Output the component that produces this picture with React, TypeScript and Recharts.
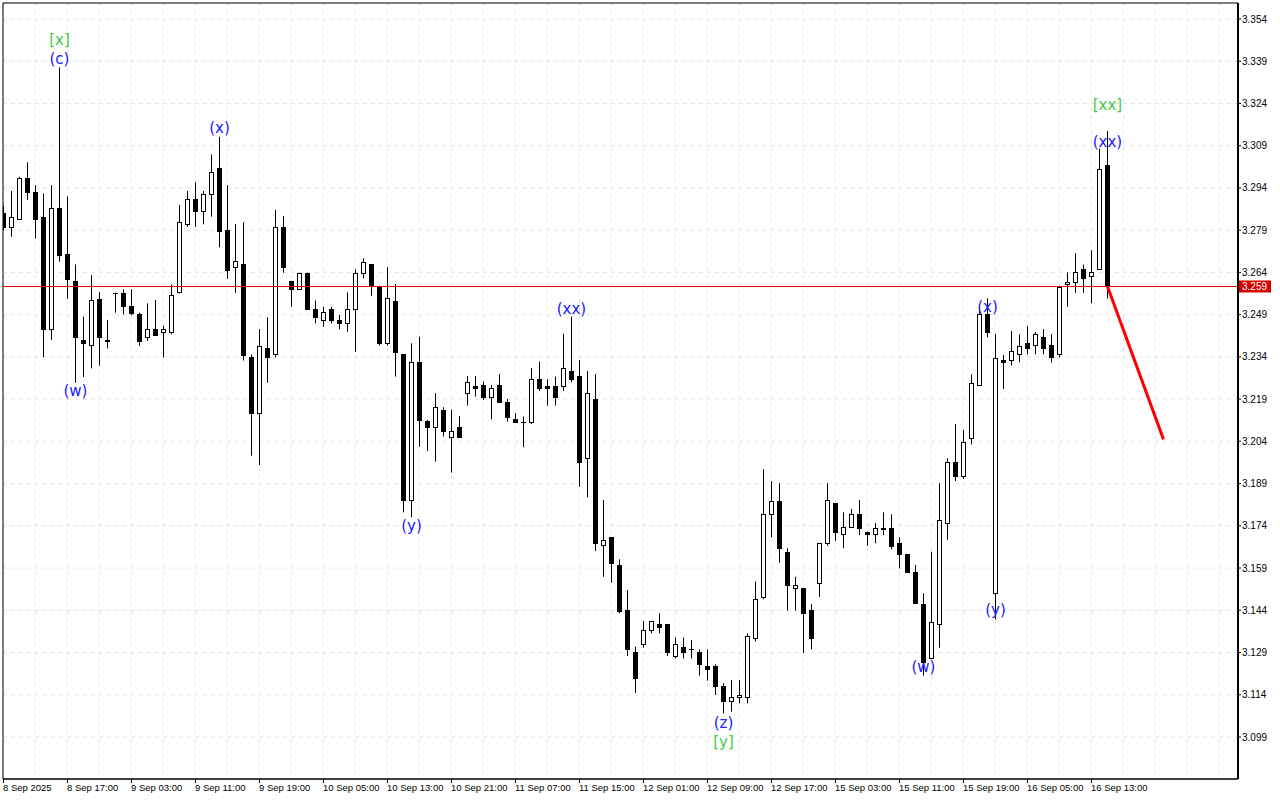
import React from "react";
import {
  ComposedChart,
  Bar,
  Scatter,
  XAxis,
  YAxis,
  CartesianGrid,
  ReferenceLine,
  ReferenceArea,
} from "recharts";

// hourly bars
const OPEN = [
  3.2852, 3.2802, 3.2828, 3.2977, 3.2926, 3.2838, 3.2438, 3.2867, 3.2707, 3.2609,
  3.24, 3.2382, 3.2547, 3.24, 3.2568, 3.2568, 3.2521, 3.2491, 3.2409, 3.2438,
  3.243, 3.243, 3.2569, 3.2811, 3.29, 3.2859, 3.292, 3.301, 3.279, 3.2658,
  3.2669, 3.2338, 3.2139, 3.237, 3.2349, 3.28, 3.261, 3.258, 3.2639, 3.2509,
  3.2471, 3.2509, 3.2471, 3.2459, 3.2509, 3.2639, 3.2669, 3.2592, 3.2388, 3.254,
  3.2349, 3.1831, 3.2321, 3.2112, 3.209, 3.2152, 3.2057, 3.209, 3.2211, 3.2238,
  3.224, 3.2199, 3.224, 3.2179, 3.2118, 3.211, 3.211, 3.226, 3.2238, 3.2238,
  3.2238, 3.229, 3.2272, 3.198, 3.2191, 3.1672, 3.1699, 3.1601, 3.1441, 3.1291,
  3.132, 3.137, 3.139, 3.139, 3.1279, 3.1308, 3.1303, 3.1291, 3.1242, 3.1242,
  3.1171, 3.1119, 3.1131, 3.1131, 3.134, 3.1488, 3.1781, 3.1829, 3.1648, 3.1518,
  3.1518, 3.1441, 3.1538, 3.1678, 3.182, 3.171, 3.1737, 3.1781, 3.1719, 3.171,
  3.1731, 3.1731, 3.1678, 3.1639, 3.1577, 3.1462, 3.1269, 3.139, 3.1749, 3.1968,
  3.1918, 3.2051, 3.2239, 3.2491, 3.15, 3.2329, 3.2329, 3.235, 3.2388, 3.2382,
  3.2409, 3.2382, 3.2349, 3.2598, 3.2607, 3.2651, 3.2628, 3.2651, 3.3021,
];
const HIGH = [
  3.2875, 3.2929, 3.298, 3.3031, 3.295, 3.292, 3.295, 3.3368, 3.291, 3.2668,
  3.2483, 3.263, 3.257, 3.2471, 3.2568, 3.258, 3.258, 3.2497, 3.253, 3.2542,
  3.245, 3.2597, 3.2879, 3.2929, 3.296, 3.2929, 3.3059, 3.3122, 3.295, 3.2812,
  3.2818, 3.2349, 3.2439, 3.248, 3.2862, 3.284, 3.261, 3.2639, 3.2639, 3.254,
  3.2518, 3.2518, 3.2489, 3.2569, 3.2651, 3.269, 3.2669, 3.2592, 3.2658, 3.2599,
  3.2349, 3.2388, 3.2412, 3.2116, 3.2211, 3.2161, 3.2152, 3.213, 3.2272, 3.2272,
  3.2252, 3.224, 3.2279, 3.219, 3.214, 3.2128, 3.23, 3.2323, 3.226, 3.227,
  3.2422, 3.2483, 3.2329, 3.229, 3.2279, 3.1832, 3.1699, 3.1621, 3.1512, 3.1311,
  3.1402, 3.1402, 3.1429, 3.139, 3.1343, 3.1343, 3.1335, 3.1301, 3.1301, 3.1248,
  3.1181, 3.1192, 3.1192, 3.1358, 3.1542, 3.1941, 3.1899, 3.1891, 3.166, 3.1559,
  3.1518, 3.1462, 3.1678, 3.1891, 3.182, 3.1788, 3.18, 3.1832, 3.1719, 3.1749,
  3.1788, 3.1781, 3.1699, 3.1639, 3.1601, 3.15, 3.1648, 3.1891, 3.198, 3.2102,
  3.208, 3.2278, 3.2506, 3.2548, 3.2421, 3.2347, 3.2432, 3.242, 3.2449, 3.2429,
  3.2439, 3.2421, 3.2589, 3.264, 3.2708, 3.2668, 3.2719, 3.308, 3.3142,
];
const LOW = [
  3.279, 3.2767, 3.2826, 3.2897, 3.2761, 3.2338, 3.24, 3.2678, 3.2547, 3.2248,
  3.2269, 3.2299, 3.2309, 3.237, 3.2497, 3.2491, 3.2488, 3.2379, 3.2397, 3.2416,
  3.2338, 3.242, 3.2565, 3.2802, 3.2802, 3.2811, 3.2838, 3.2729, 3.2617, 3.2568,
  3.2327, 3.1989, 3.1956, 3.2248, 3.2338, 3.2639, 3.2518, 3.258, 3.2509, 3.2459,
  3.2447, 3.2459, 3.2438, 3.2429, 3.2358, 3.2619, 3.2557, 3.238, 3.238, 3.227,
  3.1788, 3.177, 3.2021, 3.2006, 3.1968, 3.2057, 3.1929, 3.2057, 3.2167, 3.2199,
  3.2187, 3.2118, 3.2178, 3.211, 3.211, 3.2019, 3.2101, 3.2219, 3.2167, 3.2167,
  3.2219, 3.225, 3.1879, 3.1841, 3.165, 3.1559, 3.1538, 3.1429, 3.1278, 3.1147,
  3.1307, 3.1358, 3.1358, 3.1278, 3.1269, 3.1269, 3.1269, 3.1208, 3.119, 3.1139,
  3.1074, 3.108, 3.1109, 3.1109, 3.1329, 3.1479, 3.1699, 3.1609, 3.1439, 3.1439,
  3.1289, 3.1301, 3.1488, 3.1669, 3.1687, 3.166, 3.1737, 3.1707, 3.1669, 3.1678,
  3.1707, 3.1656, 3.1589, 3.1577, 3.1467, 3.1208, 3.1269, 3.1307, 3.169, 3.1899,
  3.1906, 3.2029, 3.2239, 3.2409, 3.1408, 3.2226, 3.2309, 3.2321, 3.2349, 3.2349,
  3.2349, 3.232, 3.2338, 3.2518, 3.2568, 3.2568, 3.253, 3.2651, 3.2547,
];
const CLOSE = [
  3.2802, 3.2838, 3.2977, 3.2926, 3.2828, 3.2438, 3.2867, 3.2701, 3.2618, 3.2409,
  3.2388, 3.2542, 3.2409, 3.2398, 3.2568, 3.2521, 3.2497, 3.2397, 3.2438, 3.2418,
  3.2438, 3.2558, 3.2818, 3.29, 3.2859, 3.292, 3.2997, 3.2788, 3.2649, 3.268,
  3.2347, 3.2139, 3.238, 3.2338, 3.28, 3.2658, 3.258, 3.2639, 3.2509, 3.248,
  3.2498, 3.2471, 3.2459, 3.2509, 3.2639, 3.2678, 3.2592, 3.2388, 3.2548, 3.2358,
  3.1831, 3.2321, 3.2116, 3.209, 3.2161, 3.2078, 3.2078, 3.2057, 3.225, 3.2228,
  3.2199, 3.2228, 3.2178, 3.2128, 3.211, 3.2108, 3.226, 3.2228, 3.2228, 3.2199,
  3.23, 3.226, 3.1968, 3.2211, 3.1678, 3.169, 3.1609, 3.1439, 3.1301, 3.1198,
  3.137, 3.1402, 3.138, 3.1291, 3.132, 3.1291, 3.1302, 3.1248, 3.123, 3.1171,
  3.1119, 3.1131, 3.1139, 3.135, 3.1479, 3.1781, 3.1829, 3.166, 3.153, 3.153,
  3.1429, 3.134, 3.1678, 3.1832, 3.1719, 3.1737, 3.1781, 3.1731, 3.171, 3.1731,
  3.173, 3.1669, 3.1639, 3.1577, 3.1467, 3.1257, 3.1399, 3.1761, 3.1968, 3.1918,
  3.2039, 3.2248, 3.2491, 3.2429, 3.2337, 3.2321, 3.2361, 3.238, 3.237, 3.242,
  3.237, 3.2338, 3.2589, 3.2607, 3.264, 3.2619, 3.264, 3.3009, 3.259,
];

const X_LABELS = [
  "8 Sep 2025", "8 Sep 17:00", "9 Sep 03:00", "9 Sep 11:00", "9 Sep 19:00",
  "10 Sep 05:00", "10 Sep 13:00", "10 Sep 21:00", "11 Sep 07:00", "11 Sep 15:00",
  "12 Sep 01:00", "12 Sep 09:00", "12 Sep 17:00", "15 Sep 03:00", "15 Sep 11:00",
  "15 Sep 19:00", "16 Sep 05:00", "16 Sep 13:00",
];
const Y_TICKS = [
  3.354, 3.339, 3.324, 3.309, 3.294, 3.279, 3.264, 3.249, 3.234, 3.219,
  3.204, 3.189, 3.174, 3.159, 3.144, 3.129, 3.114, 3.099,
];

// wave marks: text, bar index, price where the text sits
const WAVE_TEXT = ["[x]", "(c)", "(w)", "(x)", "(y)", "(xx)", "(z)", "[y]", "(w)", "(x)", "(y)", "[xx]", "(xx)"];
const WAVE_BAR = [7, 7, 9, 27, 51, 71, 90, 90, 115, 123, 124, 138, 138];
const WAVE_PRICE = [3.3465, 3.3398, 3.2219, 3.3153, 3.1739, 3.251, 3.104, 3.0972, 3.1239, 3.2517, 3.1441, 3.3235, 3.3103];

const LAST_PRICE = 3.259;
const FORECAST_BAR = [138, 145];
const FORECAST_PRICE = [3.259, 3.2047];

const X_MIN = -0.0625;
const X_MAX = 154.3125;
const Y_MIN = 3.08408;
const Y_MAX = 3.35968;

const CANDLES = OPEN.map((o, i) => ({ i, o, h: HIGH[i], l: LOW[i], c: CLOSE[i] }));
const WAVES = WAVE_TEXT.map((t, k) => ({ i: WAVE_BAR[k], p: WAVE_PRICE[k], t }));
const X_TICKS = Array.from({ length: 39 }, (_, k) => k * 4);

const AXIS_FONT = "'Liberation Sans', Arial, sans-serif";

function Candle(props: any) {
  const { x, y, width, height, payload } = props;
  if (!payload || !isFinite(x) || !isFinite(y)) return null;
  const top = Math.min(y, y + height);
  const bot = Math.max(y, y + height);
  const span = payload.h - payload.l;
  const py = (p: number) => (span > 0 ? top + ((payload.h - p) / span) * (bot - top) : top);
  const cx = Math.floor(x + width / 2) + 0.5;
  const yo = py(payload.o);
  const yc = py(payload.c);
  const bt = Math.round(Math.min(yo, yc));
  const bb = Math.round(Math.max(yo, yc));
  const up = payload.c >= payload.o;
  return (
    <g>
      <line x1={cx} x2={cx} y1={top} y2={bot} stroke="#000" strokeWidth={1} />
      {bb - bt < 1 ? (
        <line x1={cx - 2.5} x2={cx + 2.5} y1={bt + 0.5} y2={bt + 0.5} stroke="#000" />
      ) : up ? (
        <rect x={cx - 2} y={bt + 0.5} width={4} height={bb - bt} fill="#fff" stroke="#000" strokeWidth={1} />
      ) : (
        <rect x={cx - 2.5} y={bt} width={5} height={bb - bt + 1} fill="#000" />
      )}
    </g>
  );
}

function WaveLabel(props: any) {
  const { cx, cy, payload } = props;
  if (!payload) return null;
  const green = payload.t.startsWith("[");
  return (
    <text
      x={cx}
      y={cy}
      textAnchor="middle"
      dominantBaseline="central"
      fontSize={15}
      fontFamily="'DejaVu Sans', sans-serif"
      fill={green ? "#3fcc3f" : "#2020ff"}
    >
      {payload.t}
    </text>
  );
}

function XTick(props: any) {
  const { x, y, payload } = props;
  const v = payload.value;
  if (v % 8 !== 0) return <g />;
  const label = X_LABELS[v / 8];
  if (!label) return <g />;
  const tx = Math.floor(x) + 0.5;
  return (
    <g>
      <line x1={tx} x2={tx} y1={y} y2={y + 4} stroke="#000" />
      <text x={tx - 0.5} y={y + 12} fontSize={9.5} fontFamily={AXIS_FONT} fill="#000" textAnchor="start">
        {label}
      </text>
    </g>
  );
}

function PriceTag(props: any) {
  const { viewBox } = props;
  if (!viewBox) return null;
  const right = viewBox.x + viewBox.width;
  const yy = viewBox.y;
  return (
    <g>
      <rect x={right + 1} y={yy - 6} width={32} height={12} fill="#d40000" />
      <text x={right + 4} y={yy + 4} fontSize={10} fontFamily={AXIS_FONT} fill="#fff">
        {LAST_PRICE.toFixed(3)}
      </text>
    </g>
  );
}

export default function App() {
  return (
    <div style={{ position: "absolute", left: 0, top: 0, width: 1280, height: 800, background: "#fff" }}>
      <ComposedChart
        width={1280}
        height={800}
        data={CANDLES}
        margin={{ top: 3, right: 0, bottom: 0, left: 3 }}
      >
        <CartesianGrid stroke="#e4e4e4" strokeDasharray="4 4" />
        <XAxis
          type="number"
          dataKey="i"
          domain={[X_MIN, X_MAX]}
          allowDataOverflow
          ticks={X_TICKS}
          interval={0}
          height={21}
          axisLine={{ stroke: "#000" }}
          tickLine={false}
          tickSize={0}
          tickMargin={0}
          tick={<XTick />}
        />
        <YAxis
          orientation="right"
          width={42}
          domain={[Y_MIN, Y_MAX]}
          allowDataOverflow
          ticks={Y_TICKS}
          interval={0}
          axisLine={{ stroke: "#000", strokeWidth: 2 }}
          tickLine={{ stroke: "#000" }}
          tickSize={3}
          tickMargin={1}
          tickFormatter={(v: number) => v.toFixed(3)}
          tick={{ fontSize: 10, fill: "#000", fontFamily: AXIS_FONT }}
        />
        <ReferenceArea x1={X_MIN} x2={X_MAX} y1={Y_MIN} y2={Y_MAX} fill="none" stroke="#000" ifOverflow="visible" />
        <ReferenceLine y={LAST_PRICE} stroke="#e00000" strokeWidth={1} label={<PriceTag />} />
        <Bar
          dataKey={(d: any) => [d.l, d.h]}
          barSize={5}
          shape={<Candle />}
          isAnimationActive={false}
        />
        <Scatter data={WAVES} dataKey="p" shape={<WaveLabel />} isAnimationActive={false} />
        <ReferenceLine
          segment={[
            { x: FORECAST_BAR[0], y: FORECAST_PRICE[0] },
            { x: FORECAST_BAR[1], y: FORECAST_PRICE[1] },
          ]}
          stroke="#ff0000"
          strokeWidth={3}
        />
      </ComposedChart>
    </div>
  );
}
